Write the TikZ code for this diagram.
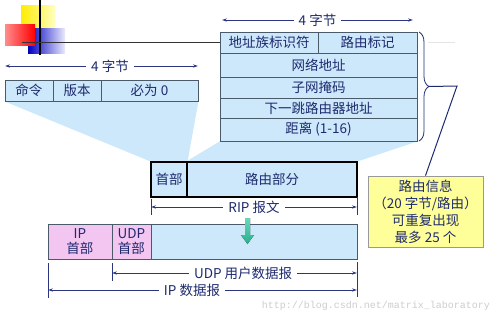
\documentclass[tikz,border=0pt]{standalone}
\usepackage{fontspec}
\setmainfont{Noto Sans CJK SC}
\newfontfamily\urlfont{Liberation Mono}
\usetikzlibrary{arrows.meta,decorations.pathreplacing,calc}
\pgfdeclarelayer{bg}
\pgfsetlayers{bg,main}

\definecolor{pale}{HTML}{CCE8FA}
\definecolor{ink}{HTML}{1E2A6E}
\definecolor{frame}{HTML}{4A5A68}
\definecolor{pinkhdr}{HTML}{F3C6F1}
\definecolor{note}{HTML}{FFFF99}
\definecolor{dimc}{HTML}{2C3580}
\definecolor{teal}{HTML}{2CC49C}

\tikzset{
  txt/.style={text=ink, font=\fontsize{13.5}{15}\selectfont, inner sep=0pt},
  cell/.style={txt, draw=frame, line width=0.8pt, fill=pale, minimum height=#1},
  cell/.default=21,
  ripcell/.style={txt, draw=black, line width=1.2pt, fill=pale, minimum height=35},
  hdrcell/.style={txt, draw=frame, line width=0.8pt, fill=pinkhdr, minimum height=35,
    align=center, font=\fontsize{13.5}{15.5}\selectfont},
  dimline/.style={draw=dimc, line width=0.8pt,
    {Stealth[length=5pt,width=3.2pt]}-{Stealth[length=5pt,width=3.2pt]}},
  tick/.style={draw=dimc, line width=0.8pt},
  dimlabel/.style={txt, fill=white, inner xsep=5pt, inner ysep=2pt},
}

\begin{document}
\begin{tikzpicture}[x=1pt,y=-1pt]
\useasboundingbox (0,0) rectangle (499,319);

% logo squares
\shade[left color=yellow!85!orange, right color=yellow!25] (21,5) rectangle (55,40);
\shade[left color=blue!75!black, right color=blue!8] (28,28) rectangle (65,53);
\shade[left color=red!45, right color=red] (5,24) rectangle (35,45);
\draw[black, line width=1.2pt] (40,0) -- (40,55);

% common header (4 bytes)
\node[cell, minimum width=48] (cmd) at (29,90.5) {命令};
\node[cell, minimum width=48] (ver) at (77,90.5) {版本};
\node[cell, minimum width=97] (zero) at (149.5,90.5) {必为 0};

% one route entry (20 bytes)
\node[cell, minimum width=98] (r1a) at (269,42.5) {地址族标识符};
\node[cell, minimum width=99] (r1b) at (367.5,42.5) {路由标记};
\node[cell=24, minimum width=197] (r2) at (318.5,65) {网络地址};
\node[cell=21, minimum width=197] (r3) at (318.5,87.5) {子网掩码};
\node[cell=20, minimum width=197] (r4) at (318.5,108) {下一跳路由器地址};
\node[cell=23, minimum width=197] (r5) at (318.5,129.5) {距离 (1-16)};

% RIP message
\node[ripcell, minimum width=36] (riphdr) at (169,179.5) {首部};
\node[ripcell, minimum width=170] (riproute) at (272,179.5) {路由部分};

% IP datagram
\node[hdrcell, minimum width=64] (iphdr) at (80,241.5) {IP\\首部};
\node[hdrcell, minimum width=39] (udphdr) at (131.5,241.5) {UDP\\首部};
\node[cell=35, minimum width=206] (payload) at (254,241.5) {};

% note box
\node[txt, draw=gray!80, line width=0.8pt, fill=note, minimum width=115, minimum height=71,
  align=center, font=\fontsize{13.5}{17}\selectfont] (notebox) at (425.5,211.5)
  {路由信息\\（20 字节/路由）\\可重复出现\\最多 25 个};

% projection wedges
\begin{pgfonlayer}{bg}
  \fill[pale] (cmd.south west) -- (zero.south east) -- (riphdr.north east) -- (riphdr.north west) -- cycle;
  \fill[pale] (r5.south west) -- (r5.south east) -- (riproute.north east) -- (riproute.north west) -- cycle;
\end{pgfonlayer}

% logo cross line
\coordinate (hl) at (22,42);
\draw[black!80, line width=1pt] (hl) -- (r1a.west |- hl);
\draw[gray!20, line width=0.8pt] (428,42) -- (455,42);

% byte-width markers
\coordinate (tl1) at (5,66);   \coordinate (tl2) at (198,66);
\draw[dimline] (tl1) -- (tl2) node[dimlabel, pos=0.544] {4 字节};
\coordinate (tr1) at (222,20); \coordinate (tr2) at (413,20);
\draw[dimline] (tr1) -- (tr2) node[dimlabel, midway] {4 字节};

% brace over route entry
\draw[ink, line width=0.8pt, decorate, decoration={brace, amplitude=10pt}]
  (419,32) -- (419,141);
\coordinate (btip) at (429,86.5);
\coordinate (bend) at (457,86);
\draw[ink, line width=1pt] (btip) -- (bend) -- (notebox.north);

% RIP message length
\coordinate (rl) at (151,207); \coordinate (rr) at (357,207);
\draw[tick] (151,199) -- (151,215);
\draw[tick] (357,197) -- (357,215);
\draw[dimline] (rl) -- (rr) node[dimlabel, midway] {RIP 报文};

% encapsulation arrow
\fill[top color=teal!70!white, bottom color=teal!90!black]
  (245,218) -- (250,218) -- (250,235) -- (254,235) -- (247.5,244) -- (241,235) -- (245,235) -- cycle;

% UDP / IP lengths
\coordinate (ul) at (112,273); \coordinate (ur) at (357,273);
\coordinate (il) at (48,290);  \coordinate (ir) at (357,290);
\draw[tick] (112,263) -- (112,281);
\draw[tick] (48,263) -- (48,298);
\draw[tick] (357,262) -- (357,297);
\draw[dimline] (ul) -- (ur) node[dimlabel, pos=0.535] {UDP 用户数据报};
\draw[dimline] (il) -- (ir) node[dimlabel, pos=0.466] {IP 数据报};

% source link
\node[text=gray!40, font=\urlfont\fontsize{10}{10}\selectfont, inner sep=0pt] (src) at (376,306)
  {http://blog.csdn.net/matrix\_laboratory};
\end{tikzpicture}
\end{document}
